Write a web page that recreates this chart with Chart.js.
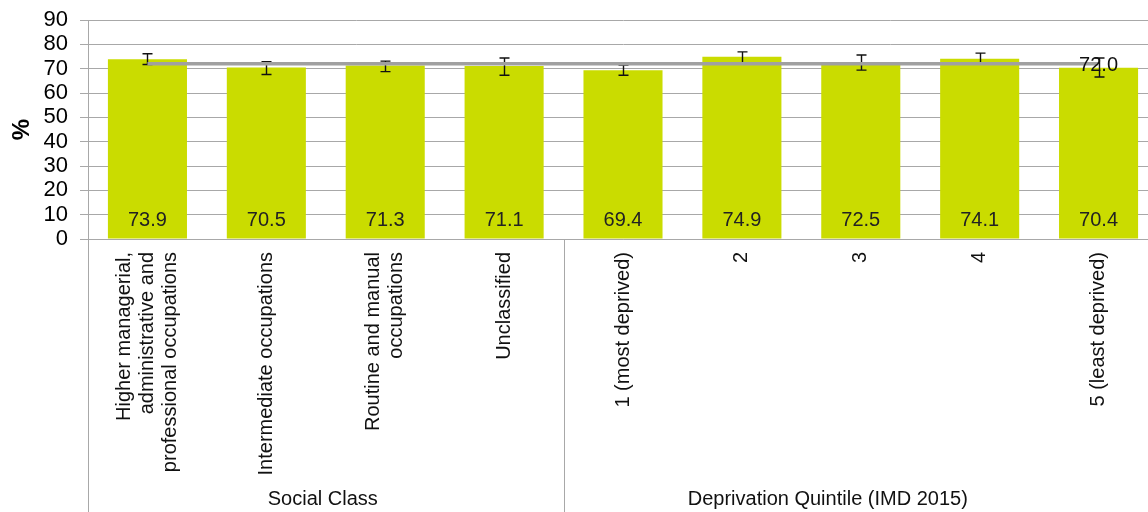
<!DOCTYPE html>
<html>
<head>
<meta charset="utf-8">
<script src="https://cdn.jsdelivr.net/npm/chart.js@4"></script>
<style>
  html, body { margin: 0; padding: 0; background: #fff; overflow: hidden; }
  #wrap { position: relative; width: 1160px; height: 512px; }
</style>
</head>
<body>
<div id="wrap"><canvas id="c"></canvas></div>
<script>
// ---- data ----
const categories = [
  ["Higher managerial,", "administrative and", "professional occupations"],
  ["Intermediate occupations"],
  ["Routine and manual", "occupations"],
  ["Unclassified"],
  ["1 (most deprived)"],
  ["2"],
  ["3"],
  ["4"],
  ["5 (least deprived)"]
];
const groupLabels = ["Social Class", "Deprivation Quintile (IMD 2015)"];
const groupSizes = [4, 5];
const values = [73.9, 70.5, 71.3, 71.1, 69.4, 74.9, 72.5, 74.1, 70.4];
const lowerCI = [71.7, 67.6, 68.8, 67.3, 67.3, 72.5, 69.4, 71.8, 66.6];
const upperCI = [76.1, 72.9, 73.1, 74.4, 71.5, 76.9, 75.6, 76.4, 74.4];
const averageValue = 72.0;
const averageSeries = categories.map(() => averageValue);
const yMin = 0, yMax = 90, yStep = 10;

const FONT = "'Liberation Sans', Arial, sans-serif";
const GRID = '#a8a8a8';

const errorBars = {
  id: 'errorBars',
  afterDatasetDraw(chart, args) {
    if (args.index !== 0) return;
    const ctx = chart.ctx, y = chart.scales.y;
    const meta = chart.getDatasetMeta(0);
    ctx.save();
    ctx.strokeStyle = '#111';
    ctx.lineWidth = 1.4;
    meta.data.forEach((bar, i) => {
      const x = Math.round(bar.x) + 0.5;
      const yt = y.getPixelForValue(upperCI[i]);
      const yb = y.getPixelForValue(lowerCI[i]);
      ctx.beginPath();
      ctx.moveTo(x, yt); ctx.lineTo(x, yb);
      ctx.moveTo(x - 5, yt); ctx.lineTo(x + 5, yt);
      ctx.moveTo(x - 5, yb); ctx.lineTo(x + 5, yb);
      ctx.stroke();
    });
    ctx.restore();
  }
};

const annotations = {
  id: 'annotations',
  afterDraw(chart) {
    const ctx = chart.ctx, xs = chart.scales.x;
    const area = chart.chartArea;
    ctx.save();
    // bar value labels
    ctx.font = '20px ' + FONT;
    ctx.fillStyle = '#222';
    ctx.textAlign = 'center';
    ctx.textBaseline = 'middle';
    const meta = chart.getDatasetMeta(0);
    meta.data.forEach((bar, i) => {
      ctx.fillText(values[i].toFixed(1), bar.x, area.bottom - 19);
    });
    // average label at last point
    const lm = chart.getDatasetMeta(1);
    const last = lm.data[lm.data.length - 1];
    ctx.fillStyle = '#111';
    ctx.fillText(averageValue.toFixed(1), last.x, last.y + 2);

    // category labels (rotated)
    ctx.fillStyle = '#111';
    ctx.textAlign = 'right';
    const lineH = 23;
    categories.forEach((lines, i) => {
      const cx = xs.getPixelForValue(i);
      lines.forEach((ln, j) => {
        const off = (j - (lines.length - 1) / 2) * lineH;
        ctx.save();
        ctx.translate(cx + off, area.bottom + 13);
        ctx.rotate(-Math.PI / 2);
        ctx.fillText(ln, 0, 0);
        ctx.restore();
      });
    });

    // group separators and labels
    const half = (xs.getPixelForValue(1) - xs.getPixelForValue(0)) / 2;
    ctx.strokeStyle = GRID;
    ctx.lineWidth = 1;
    ctx.textAlign = 'center';
    let start = 0;
    const bounds = [];
    groupSizes.forEach((n) => {
      const left = xs.getPixelForValue(start) - half;
      const right = xs.getPixelForValue(start + n - 1) + half;
      bounds.push(left, right);
      start += n;
    });
    const uniq = [...new Set(bounds.map(b => Math.round(b)))];
    uniq.forEach(b => {
      ctx.beginPath();
      ctx.moveTo(b + 0.5, area.bottom);
      ctx.lineTo(b + 0.5, chart.height);
      ctx.stroke();
    });
    start = 0;
    const groupShift = [-3, -33];
    groupSizes.forEach((n, g) => {
      const left = xs.getPixelForValue(start) - half;
      const right = xs.getPixelForValue(start + n - 1) + half;
      ctx.fillText(groupLabels[g], (left + right) / 2 + groupShift[g], 499);
      start += n;
    });
    ctx.restore();
  }
};

new Chart(document.getElementById('c'), {
  data: {
    labels: categories,
    datasets: [
      {
        type: 'bar',
        data: values,
        backgroundColor: '#cadc00',
        categoryPercentage: 1.0,
        barPercentage: 0.665,
        order: 2
      },
      {
        type: 'line',
        data: averageSeries,
        borderColor: '#a0a0a0',
        borderWidth: 3.5,
        pointRadius: 0,
        fill: false,
        order: 1
      }
    ]
  },
  options: {
    responsive: true,
    maintainAspectRatio: false,
    animation: false,
    layout: { padding: { top: 20, right: 2, left: 0, bottom: 0 } },
    plugins: { legend: { display: false }, tooltip: { enabled: false } },
    scales: {
      x: {
        grid: { display: false },
        border: { display: true, color: GRID, width: 1 },
        ticks: { display: false },
        afterFit: (s) => { s.height = 273; }
      },
      y: {
        min: yMin, max: yMax,
        ticks: { stepSize: yStep, autoSkip: false, color: '#000', font: { family: FONT, size: 22, lineHeight: 1 }, padding: 12 },
        grid: { color: GRID, tickLength: 8 },
        border: { display: true, color: GRID },
        title: { display: true, text: '%', color: '#000', font: { family: FONT, size: 24, weight: 'bold', lineHeight: 1 }, padding: { top: 10, bottom: 0 } },
        afterFit: (s) => { s.width = 88; s.paddingTop = 11; }
      }
    }
  },
  plugins: [errorBars, annotations]
});
</script>
</body>
</html>
